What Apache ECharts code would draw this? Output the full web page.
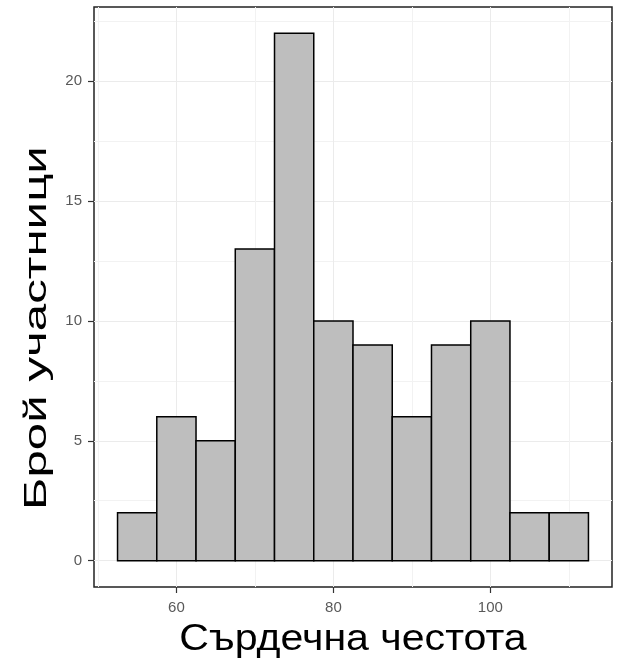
<!DOCTYPE html>
<html>
<head>
<meta charset="utf-8">
<script src="https://cdn.jsdelivr.net/npm/echarts@6/dist/echarts.min.js"></script>
<style>
  html, body { margin: 0; padding: 0; background: #fff; }
  #hist { width: 618px; height: 660px; }
</style>
</head>
<body>
<div id="hist"></div>
<script>
// хистограма на сърдечната честота
var binStart = [52.5, 57.5, 62.5, 67.5, 72.5, 77.5, 82.5, 87.5, 92.5, 97.5, 102.5, 107.5];
var binWidth = 5;
var counts = [2, 6, 5, 13, 22, 10, 9, 6, 9, 10, 2, 2];
var xTicks = [60, 80, 100];
var yTicks = [0, 5, 10, 15, 20];

var chart = echarts.init(document.getElementById('hist'));

var txt = 'Liberation Sans, Arial, sans-serif';

var option = {
  animation: false,
  // заглавията на осите са разтегнати като в оригинала
  graphic: [
    {
      type: 'text',
      x: 37, y: 328,
      rotation: Math.PI / 2,
      scaleX: 1.54,
      style: {
        text: 'Брой участници',
        fontSize: 32, fontFamily: txt, fill: '#000',
        align: 'center', verticalAlign: 'middle'
      }
    },
    {
      type: 'text',
      x: 353, y: 640,
      scaleX: 1.11,
      style: {
        text: 'Сърдечна честота',
        fontSize: 37, fontFamily: txt, fill: '#000',
        align: 'center', verticalAlign: 'middle'
      }
    }
  ],
  grid: {
    left: 94, right: 6, top: 7, bottom: 73,
    show: true,
    borderColor: '#222',
    borderWidth: 1.5
  },
  xAxis: {
    type: 'value',
    min: 49.5,
    max: 115.5,
    splitNumber: 3,
    axisLine: { show: false, onZero: false },
    axisTick: { show: true, length: 6, customValues: xTicks, lineStyle: { color: '#333', width: 1.2 } },
    axisLabel: { customValues: xTicks, color: '#595959', fontSize: 15, fontFamily: txt, margin: 13 },
    splitLine: { lineStyle: { color: '#ebebeb', width: 1 } },
    minorTick: { show: false, splitNumber: 2 },
    minorSplitLine: { show: true, lineStyle: { color: '#f2f2f2', width: 1 } }
  },
  yAxis: {
    type: 'value',
    min: -1.1,
    max: 23.1,
    splitNumber: 5,
    axisLine: { show: false, onZero: false },
    axisTick: { show: true, length: 6, customValues: yTicks, lineStyle: { color: '#333', width: 1.2 } },
    axisLabel: { customValues: yTicks, color: '#595959', fontSize: 15, fontFamily: txt, margin: 12 },
    splitLine: { lineStyle: { color: '#ebebeb', width: 1 } },
    minorTick: { show: false, splitNumber: 2 },
    minorSplitLine: { show: true, lineStyle: { color: '#f2f2f2', width: 1 } }
  },
  series: [
    {
      type: 'custom',
      data: binStart.map(function (s, i) { return [s, s + binWidth, counts[i]]; }),
      encode: { x: [0, 1], y: 2 },
      renderItem: function (params, api) {
        var p0 = api.coord([api.value(0), 0]);
        var p1 = api.coord([api.value(1), api.value(2)]);
        return {
          type: 'rect',
          shape: { x: p0[0], y: p1[1], width: p1[0] - p0[0], height: p0[1] - p1[1] },
          style: { fill: '#bebebe', stroke: '#000', lineWidth: 1.5 }
        };
      }
    }
  ]
};

chart.setOption(option);
</script>
</body>
</html>
